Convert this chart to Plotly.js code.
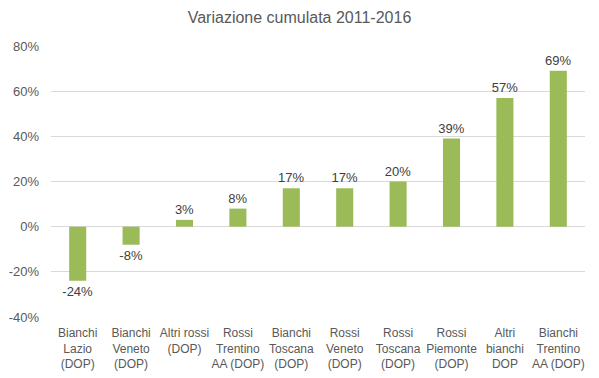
<!DOCTYPE html>
<html><head><meta charset="utf-8">
<script src="https://cdn.plot.ly/plotly-3.0.1.min.js"></script>
<style>html,body{margin:0;padding:0;background:#fff}#chart{width:599px;height:378px}</style>
</head><body><div id="chart"></div>
<script>
const categories = [
  "Bianchi<br>Lazio<br>(DOP)",
  "Bianchi<br>Veneto<br>(DOP)",
  "Altri rossi<br>(DOP)",
  "Rossi<br>Trentino<br>AA (DOP)",
  "Bianchi<br>Toscana<br>(DOP)",
  "Rossi<br>Veneto<br>(DOP)",
  "Rossi<br>Toscana<br>(DOP)",
  "Rossi<br>Piemonte<br>(DOP)",
  "Altri<br>bianchi<br>DOP",
  "Bianchi<br>Trentino<br>AA (DOP)"
];
const values = [-0.24, -0.08, 0.03, 0.08, 0.17, 0.17, 0.20, 0.39, 0.57, 0.69];
const yTickValues = [-0.4, -0.2, 0, 0.2, 0.4, 0.6, 0.8];
const yTickLabels = ["-40%", "-20%", "0%", "20%", "40%", "60%", "80%"];

const trace = {
  type: "bar",
  x: categories,
  y: values,
  marker: {color: "#9BBB59"},
  text: values.map(v => Math.round(v * 100) + "%"),
  textposition: "outside",
  cliponaxis: false,
  constraintext: "none",
  textfont: {family: "Liberation Sans, Arial, sans-serif", size: 13, color: "#404040"},
  hoverinfo: "none"
};
const layout = {
  width: 599, height: 378,
  margin: {l: 51, r: 14, t: 46, b: 61},
  paper_bgcolor: "#fff", plot_bgcolor: "#fff",
  bargap: 0.68,
  showlegend: false,
  uniformtext: {mode: "show", minsize: 13},
  font: {family: "Liberation Sans, Arial, sans-serif", color: "#595959", size: 12},
  title: {text: "Variazione cumulata 2011-2016", x: 0.5, xanchor: "center", y: 0.955, yanchor: "middle",
          font: {size: 16, color: "#595959", family: "Liberation Sans, Arial, sans-serif"}},
  xaxis: {showgrid: false, showline: false, zeroline: false, ticks: "", ticklabelstandoff: 7,
          tickfont: {size: 12, color: "#595959"}, fixedrange: true},
  yaxis: {range: [-0.4, 0.8], tickvals: yTickValues, ticktext: yTickLabels, showgrid: true, gridcolor: "#D9D9D9",
          zeroline: true, zerolinecolor: "#D9D9D9", zerolinewidth: 1, showline: false, ticks: "", ticklen: 0,
          ticklabelstandoff: 11, tickfont: {size: 13, color: "#595959"}, fixedrange: true}
};
Plotly.newPlot("chart", [trace], layout, {staticPlot: true, displayModeBar: false});
</script></body></html>
